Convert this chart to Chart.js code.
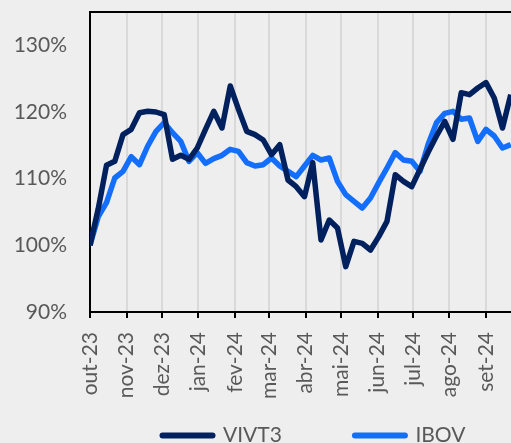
<!DOCTYPE html>
<html>
<head>
<meta charset="utf-8">
<script src="https://cdn.jsdelivr.net/npm/chart.js@4"></script>
<style>
	html, body { margin: 0; padding: 0; background: #eeeeee; overflow: hidden; }
	#wrap { width: 642px; height: 456px; }
</style>
</head>
<body>
<div id="wrap"><canvas id="grafico"></canvas></div>
<script>
// meses (dias desde 01/10/2023) e rótulos do eixo x
const mesesDias = [0, 31, 61, 92, 123, 152, 183, 213, 244, 274, 305, 336];
const mesesLabels = ['out-23', 'nov-23', 'dez-23', 'jan-24', 'fev-24', 'mar-24', 'abr-24', 'mai-24', 'jun-24', 'jul-24', 'ago-24', 'set-24'];
const yTicks = [90, 100, 110, 120, 130];

// base 100, semanal
const vivt3 = [100, 105.5, 112, 112.6, 116.6, 117.4, 119.9, 120.1, 120, 119.6,
	112.9, 113.5, 112.9, 114.6, 117.4, 120.1, 117.6, 123.9, 120.4, 117.1,
	116.6, 115.8, 113.6, 115.1, 109.8, 108.8, 107.3, 112.4, 100.8, 103.8,
	102.6, 96.8, 100.6, 100.3, 99.3, 101.3, 103.6, 110.6, 109.6, 108.8,
	111.4, 114, 116.4, 118.6, 115.9, 122.9, 122.6, 123.6, 124.4, 122.1,
	117.6, 122.6];
const ibov = [100, 104.3, 106.4, 110.1, 111.1, 113.3, 112.1, 114.9, 117.1, 118.4,
	116.9, 115.6, 112.6, 113.9, 112.3, 113, 113.5, 114.4, 114.1, 112.4,
	111.9, 112.1, 113.1, 111.9, 111.1, 110.3, 111.9, 113.5, 112.8, 113.1,
	109.6, 107.6, 106.6, 105.6, 107.1, 109.4, 111.6, 113.9, 112.8, 112.6,
	111.1, 115.2, 118.4, 119.8, 120.1, 118.9, 119.1, 115.6, 117.4, 116.4,
	114.6, 115.1];
const semanas = vivt3.map((v, i) => i * 7);

const fonte = { family: 'Lato', size: 21 };
const cinza = '#595959';

// borda superior da área do gráfico
const bordaTopo = {
	id: 'bordaTopo',
	afterDraw(chart) {
		const { ctx, chartArea: a } = chart;
		ctx.save();
		ctx.strokeStyle = '#000';
		ctx.lineWidth = 2;
		ctx.beginPath();
		ctx.moveTo(a.left - 1, a.top);
		ctx.lineTo(a.right, a.top);
		ctx.stroke();
		ctx.restore();
	}
};

new Chart(document.getElementById('grafico'), {
	type: 'line',
	data: {
		labels: semanas,
		datasets: [
			{
				label: 'VIVT3',
				data: vivt3,
				borderColor: '#00215E',
				backgroundColor: '#00215E',
				borderWidth: 5.5,
				borderJoinStyle: 'round',
				pointRadius: 0,
				tension: 0
			},
			{
				label: 'IBOV',
				data: ibov,
				borderColor: '#136FFB',
				backgroundColor: '#136FFB',
				borderWidth: 5.5,
				borderJoinStyle: 'round',
				pointRadius: 0,
				tension: 0
			}
		]
	},
	options: {
		responsive: true,
		maintainAspectRatio: false,
		animation: false,
		layout: { padding: { top: 12, right: 14, left: 0, bottom: 0 } },
		plugins: {
			tooltip: { enabled: false },
			legend: {
				position: 'bottom',
				labels: {
					usePointStyle: true,
					pointStyleWidth: 50,
					padding: 73,
					color: cinza,
					font: fonte,
					generateLabels(chart) {
						return chart.data.datasets.map((ds, i) => ({
							text: ds.label,
							datasetIndex: i,
							pointStyle: 'line',
							strokeStyle: ds.borderColor,
							fillStyle: ds.borderColor,
							lineWidth: 6,
							lineCap: 'round',
							fontColor: cinza
						}));
					}
				}
			}
		},
		scales: {
			x: {
				type: 'linear',
				min: 0,
				max: 456.5,
				afterBuildTicks: s => { s.ticks = mesesDias.map(v => ({ value: v })); },
				afterFit: s => {
					s.height = 40;
					s.paddingLeft = 0;
					s.paddingRight = 0;
					// rótulos passam por cima da área da legenda, sem recorte
					s._computeLabelArea = () => undefined;
				},
				ticks: {
					autoSkip: false,
					minRotation: 90,
					maxRotation: 90,
					padding: 14,
					color: cinza,
					font: fonte,
					callback: (v, i) => mesesLabels[i]
				},
				grid: { color: '#d9d9d9', lineWidth: 2, tickColor: '#000', tickLength: 6, tickWidth: 2 },
				border: { color: '#000', width: 2 }
			},
			y: {
				min: 90,
				max: 135,
				afterBuildTicks: s => { s.ticks = yTicks.map(v => ({ value: v })); },
				afterFit: s => { s.width = 90; s.paddingTop = 0; s.paddingBottom = 0; },
				ticks: {
					padding: 23,
					color: cinza,
					font: fonte,
					callback: v => v + '%'
				},
				grid: { display: false, drawTicks: false },
				border: { color: '#000', width: 2 }
			}
		}
	},
	plugins: [bordaTopo]
});
</script>
</body>
</html>
